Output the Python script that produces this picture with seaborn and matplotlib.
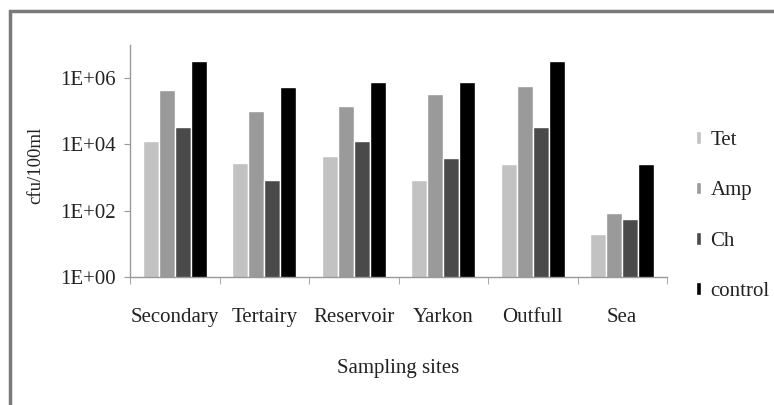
import numpy as np
import pandas as pd
import matplotlib
matplotlib.use("Agg")
import matplotlib.pyplot as plt
from matplotlib.patches import Rectangle
from matplotlib.ticker import FixedLocator, NullLocator
import seaborn as sns

sites = ["Secondary", "Tertairy", "Reservoir", "Yarkon", "Outfull", "Sea"]
series = ["Tet", "Amp", "Ch", "control"]
tet = [1.3e4, 2.8e3, 4.6e3, 8.7e2, 2.6e3, 20]
amp = [4.3e5, 1.0e5, 1.4e5, 3.3e5, 5.6e5, 85]
ch = [3.4e4, 8.7e2, 1.3e4, 3.8e3, 3.3e4, 58]
control = [3.4e6, 5.5e5, 7.4e5, 7.9e5, 3.2e6, 2.6e3]
colors = ["#c2c2c2", "#9a9a9a", "#4a4a4a", "#000000"]
ytick_values = [1, 1e2, 1e4, 1e6]
ytick_labels = ["1E+00", "1E+02", "1E+04", "1E+06"]

rows = []
for name, vals in zip(series, [tet, amp, ch, control]):
    for s, v in zip(sites, vals):
        rows.append({"site": s, "antibiotic": name, "cfu": v})
df = pd.DataFrame(rows)

sns.set_style("white")
plt.rcParams["font.family"] = ["Liberation Serif", "DejaVu Serif"]

FS = 15
TXT = "#222222"
SERIF = ["Liberation Serif", "DejaVu Serif"]

fig = plt.figure(figsize=(7.74, 4.05), dpi=100)
ax = fig.add_axes([130/774, 1-277/405, 537/774, 232/405])
ax.set_yscale("log")
sns.barplot(data=df, x="site", y="cfu", hue="antibiotic", palette=colors,
            saturation=1, width=0.72, ax=ax, errorbar=None)
ax.set_ylim(1, 1e7)
ax.set_xlim(-0.5, 5.5)

ax.yaxis.set_major_locator(FixedLocator(ytick_values))
ax.yaxis.set_minor_locator(NullLocator())
ax.set_yticklabels(ytick_labels)
ax.xaxis.set_minor_locator(FixedLocator(np.arange(-0.5, 6.0, 1.0)))
ax.tick_params(axis="x", which="major", length=0, labelsize=FS, pad=22, labelcolor=TXT)
ax.tick_params(axis="x", which="minor", length=5, color="#999999", direction="out", bottom=True)
ax.tick_params(axis="y", which="major", length=4, color="#999999", labelsize=FS,
               direction="out", left=True, pad=6, labelcolor=TXT)
for t in ax.get_xticklabels() + ax.get_yticklabels():
    t.set_family(SERIF)

for side in ["top", "right"]:
    ax.spines[side].set_visible(False)
for side in ["left", "bottom"]:
    ax.spines[side].set_color("#999999")
    ax.spines[side].set_linewidth(1.0)

ax.set_xlabel("Sampling sites", fontsize=FS, labelpad=23, color=TXT, family=SERIF)
ax.set_ylabel("cfu/100ml", fontsize=13.5, color=TXT, family=SERIF)
ax.yaxis.set_label_coords(-0.16, 0.48)

leg = ax.legend(loc="center left", bbox_to_anchor=(696/774, 1-216/405),
                bbox_transform=fig.transFigure, frameon=False, fontsize=FS,
                handlelength=0.25, handleheight=0.55, handletextpad=0.45,
                labelspacing=1.5, borderpad=0, borderaxespad=0,
                prop={"family": SERIF, "size": FS})
for t in leg.get_texts():
    t.set_color(TXT)

fig.add_artist(Rectangle((10/774, -0.2), 1.5, 1.2 - 11/405, transform=fig.transFigure,
                         fill=False, edgecolor="#7a7a7a", linewidth=2.5))

fig.savefig("out.png", dpi=100, facecolor="white")
